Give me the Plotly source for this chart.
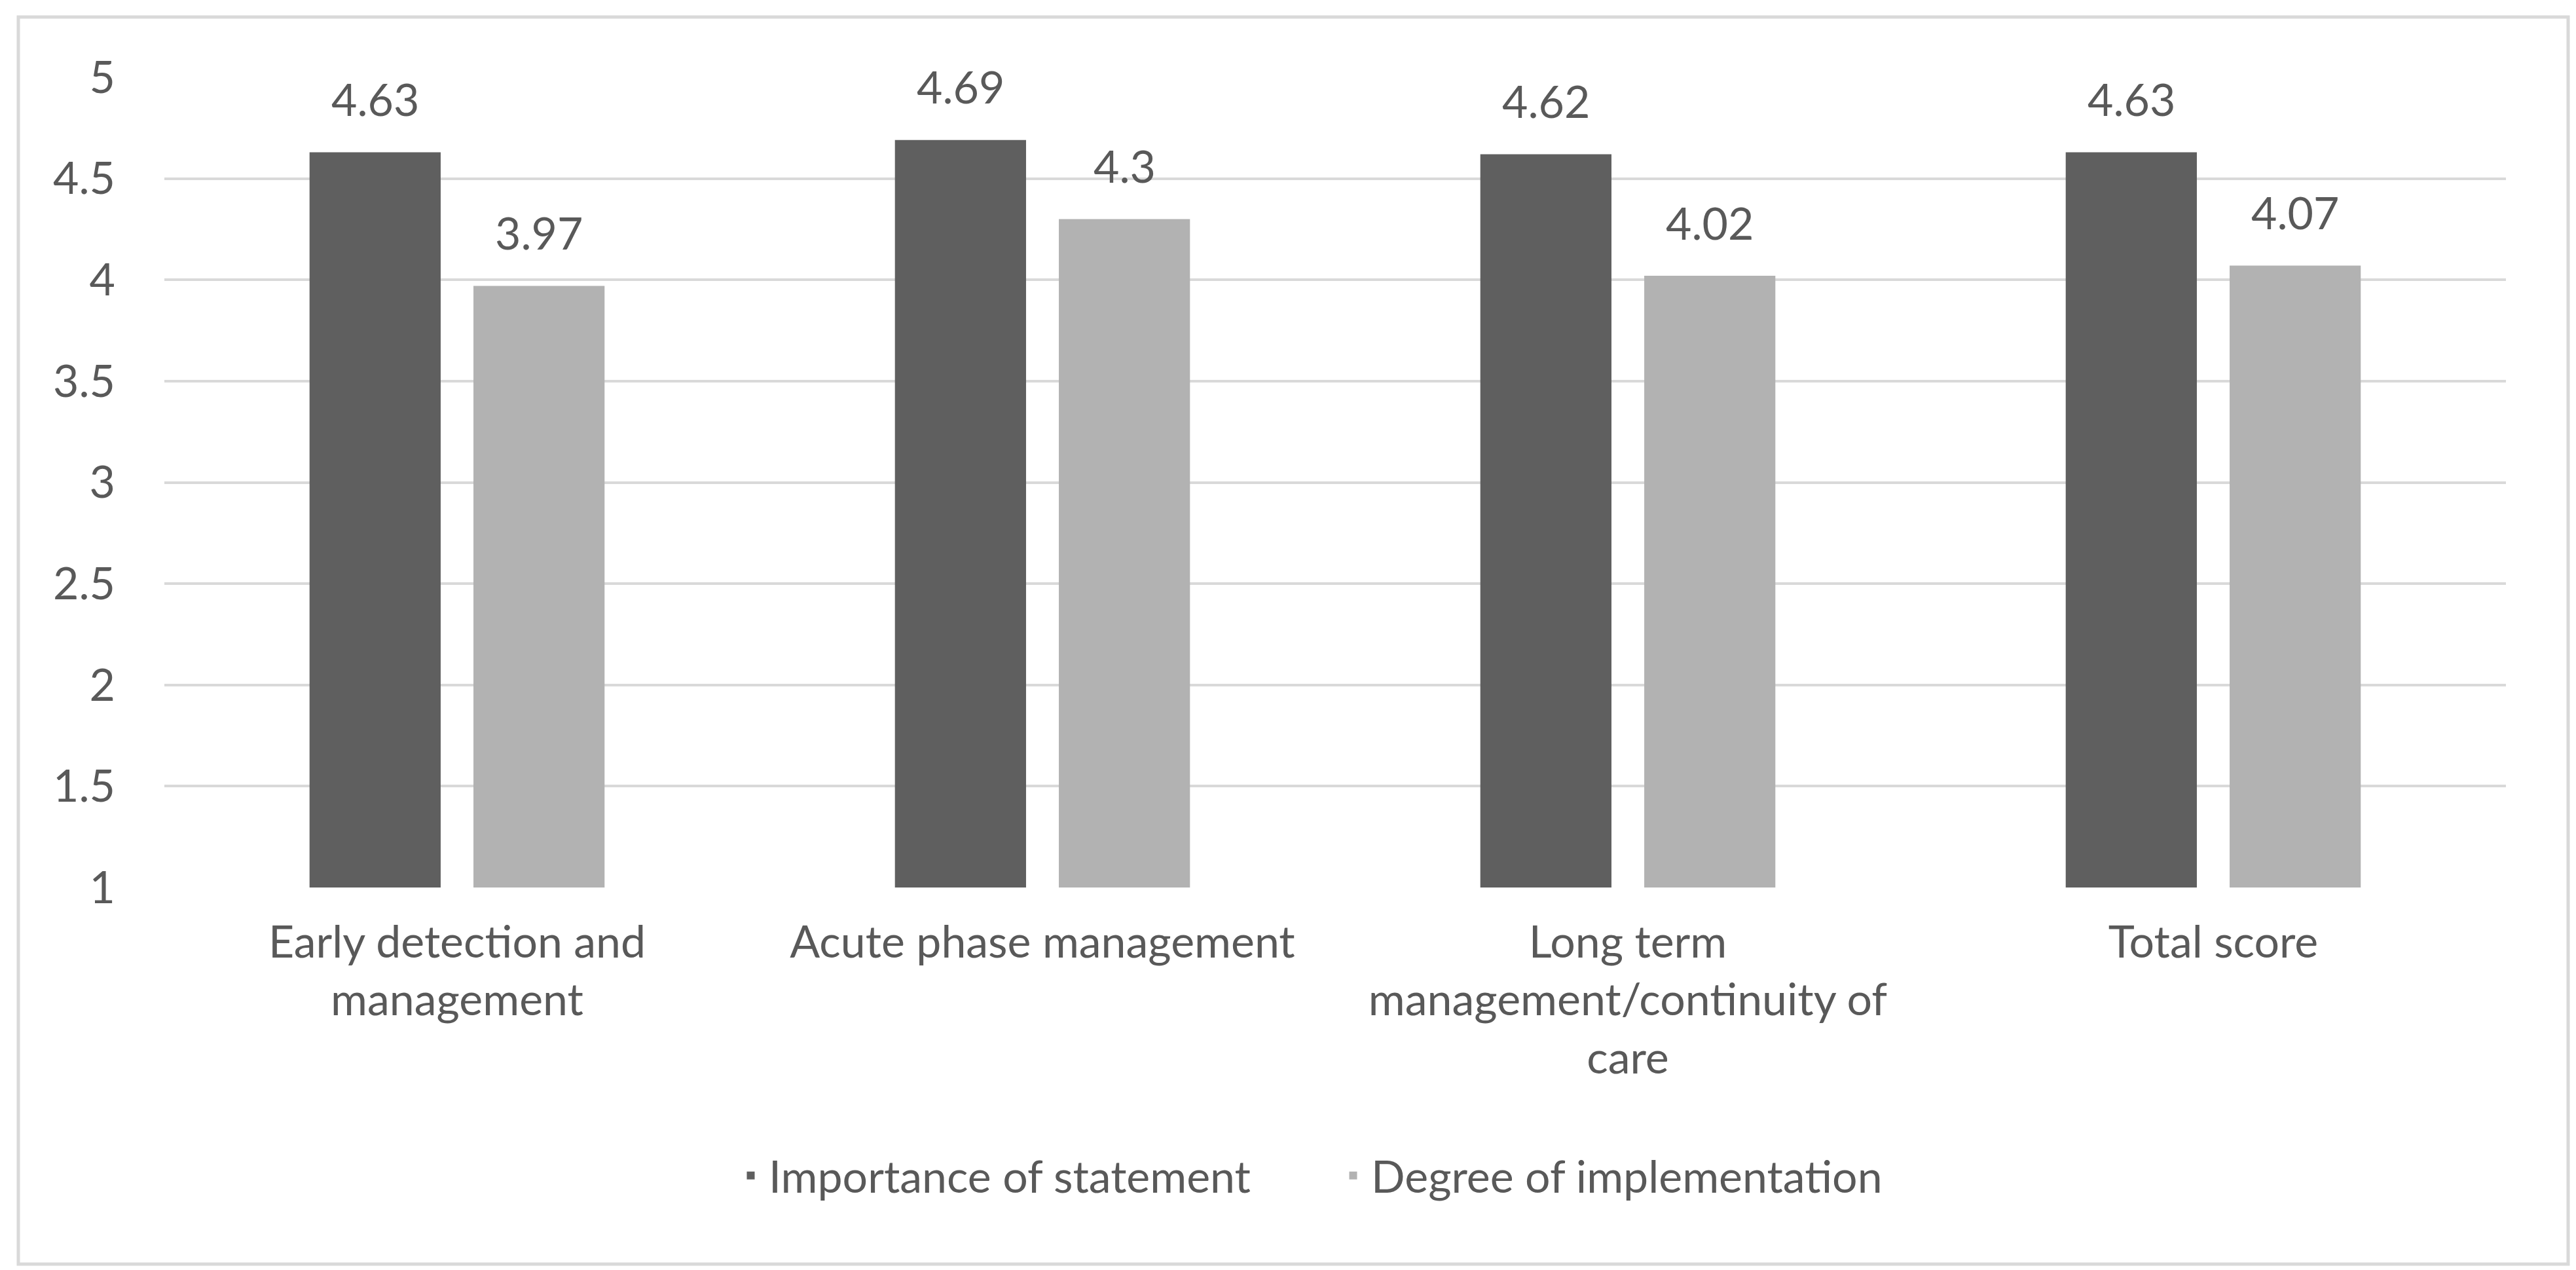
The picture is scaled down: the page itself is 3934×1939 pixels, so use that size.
import plotly.graph_objects as go

categories = ["Early detection and<br>management", "Acute phase management",
              "Long term<br>management/continuity of<br>care", "Total score"]
series_names = ["Importance of statement", "Degree of implementation"]
importance = [4.63, 4.69, 4.62, 4.63]
implementation = [3.97, 4.30, 4.02, 4.07]
value_labels_imp = ["4.63", "4.69", "4.62", "4.63"]
value_labels_impl = ["3.97", "4.3", "4.02", "4.07"]
y_ticks = [1, 1.5, 2, 2.5, 3, 3.5, 4, 4.5, 5]

DARK = "#5f5f5f"
LIGHT = "#b2b2b2"
TXT = "#595959"
GRID = "#d9d9d9"
FONT = "Lato"
FS = 68

W, H = 3934, 1939
L, R, T, B = 243, 115, 110, 592
pw, ph = W - L - R, H - T - B

fig = go.Figure()
fig.add_trace(go.Bar(x=categories, y=importance, name=series_names[0],
                     marker=dict(color=DARK, line=dict(width=0))))
fig.add_trace(go.Bar(x=categories, y=implementation, name=series_names[1],
                     marker=dict(color=LIGHT, line=dict(width=0))))

bargap, groupgap = 0.44, 0.2
slot_px = (1 - bargap) * (pw / len(categories)) / 2
for vals, labs, sgn in [(importance, value_labels_imp, -1), (implementation, value_labels_impl, 1)]:
    for c, v, t in zip(categories, vals, labs):
        fig.add_annotation(x=c, y=v, text=t, showarrow=False, xshift=sgn * slot_px / 2,
                           yshift=82, yanchor="middle",
                           font=dict(family=FONT, size=FS, color=TXT))

fig.add_shape(type="rect", xref="paper", yref="paper",
              x0=(20 - L) / pw, x1=(W - 20 - L) / pw,
              y0=-(H - 17 - T - ph) / ph, y1=(ph + T - 18) / ph,
              line=dict(color=GRID, width=5), layer="below")

fig.update_layout(
    width=W, height=H,
    margin=dict(l=L, r=R, t=T, b=B),
    paper_bgcolor="white", plot_bgcolor="white",
    barmode="group", bargap=bargap, bargroupgap=groupgap,
    font=dict(family=FONT, size=FS, color=TXT),
    showlegend=True,
    legend=dict(orientation="h", x=0.5, xanchor="center", y=-(1787 - T - ph) / ph,
                yanchor="middle", font=dict(family=FONT, size=FS, color=TXT),
                itemwidth=45, entrywidth=860, traceorder="normal"),
    xaxis=dict(showgrid=False, showline=False, ticks="", tickfont=dict(family=FONT, size=FS, color=TXT),
               ticklabelstandoff=38),
    yaxis=dict(range=[1, 5], tickvals=y_ticks, ticktext=[f"{v:g}" for v in y_ticks],
               showgrid=True, gridcolor=GRID, gridwidth=4, zeroline=False, showline=False,
               ticks="", ticklabelstandoff=74, tickfont=dict(family=FONT, size=FS, color=TXT)),
)

fig.write_html("out.html")
